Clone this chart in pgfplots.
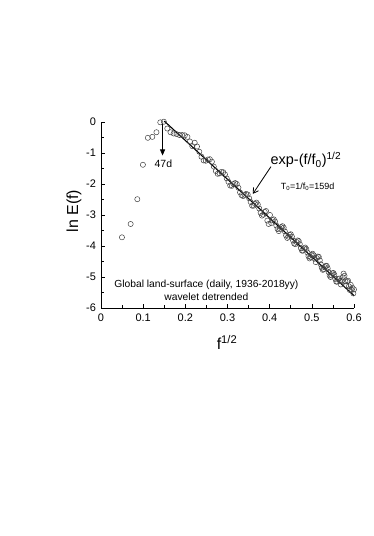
\documentclass[border=0pt]{standalone}
\usepackage{fontspec}
\setmainfont{Liberation Sans}
\usepackage{pgfplots}
\pgfplotsset{compat=1.18}
\usetikzlibrary{arrows.meta}

\pgfplotstableread{
x y
0.0497 -3.72
0.0703 -3.29
0.0861 -2.49
0.0994 -1.38
0.1111 -0.51
0.1217 -0.48
0.1315 -0.33
0.1406 -0.01
0.1491 0.01
0.1572 -0.21
0.1648 -0.33
0.1722 -0.37
0.1792 -0.39
0.1860 -0.42
0.1925 -0.42
0.1988 -0.43
0.2049 -0.48
0.2109 -0.63
0.2166 -0.78
0.2223 -0.67
0.2277 -0.79
0.2331 -0.96
0.2383 -1.12
0.2435 -1.24
0.2485 -1.25
0.2534 -1.21
0.2582 -1.20
0.2630 -1.28
0.2676 -1.44
0.2722 -1.58
0.2767 -1.67
0.2811 -1.66
0.2855 -1.61
0.2898 -1.62
0.2940 -1.69
0.2982 -1.82
0.3023 -1.93
0.3064 -2.05
0.3104 -2.06
0.3143 -2.00
0.3182 -1.97
0.3221 -2.00
0.3259 -2.12
0.3297 -2.27
0.3334 -2.36
0.3371 -2.39
0.3407 -2.35
0.3443 -2.32
0.3479 -2.34
0.3514 -2.46
0.3549 -2.58
0.3584 -2.70
0.3618 -2.70
0.3652 -2.64
0.3686 -2.60
0.3719 -2.66
0.3752 -2.79
0.3785 -2.93
0.3817 -3.02
0.3850 -2.99
0.3882 -2.90
0.3913 -2.87
0.3945 -3.18
0.3976 -3.29
0.4007 -3.00
0.4038 -3.26
0.4068 -3.16
0.4098 -3.14
0.4128 -3.21
0.4158 -3.34
0.4188 -3.45
0.4217 -3.52
0.4246 -3.45
0.4275 -3.39
0.4304 -3.36
0.4333 -3.41
0.4361 -3.53
0.4389 -3.66
0.4417 -3.74
0.4445 -3.70
0.4473 -3.64
0.4500 -3.62
0.4528 -3.70
0.4555 -3.82
0.4582 -3.92
0.4609 -3.94
0.4636 -3.87
0.4662 -3.82
0.4689 -3.84
0.4715 -3.94
0.4741 -4.07
0.4767 -4.15
0.4793 -4.15
0.4819 -4.08
0.4844 -4.05
0.4870 -4.10
0.4895 -4.21
0.4920 -4.33
0.4945 -4.40
0.4970 -4.36
0.4995 -4.29
0.5019 -4.25
0.5044 -4.30
0.5068 -4.41
0.5093 -4.52
0.5117 -4.39
0.5141 -4.34
0.5165 -4.35
0.5189 -4.46
0.5212 -4.59
0.5236 -4.70
0.5260 -4.77
0.5283 -4.75
0.5306 -4.68
0.5330 -4.64
0.5353 -4.64
0.5376 -4.72
0.5399 -4.84
0.5422 -4.95
0.5444 -5.00
0.5467 -4.95
0.5489 -4.88
0.5512 -4.87
0.5534 -4.93
0.5557 -5.06
0.5579 -5.15
0.5601 -5.15
0.5623 -5.07
0.5645 -5.05
0.5667 -5.13
0.5688 -5.24
0.5710 -5.13
0.5732 -5.01
0.5753 -4.89
0.5775 -4.96
0.5796 -5.14
0.5817 -5.27
0.5838 -5.14
0.5859 -5.12
0.5880 -5.30
0.5901 -5.42
0.5922 -5.25
0.5943 -5.42
0.5964 -5.35
0.5985 -5.53
0.6000 -5.40
}\spectrum

\begin{document}
\begin{tikzpicture}
\path[use as bounding box] (0,0) rectangle (374bp,536bp);
\begin{axis}[
  at={(101bp,228bp)}, anchor=south west,
  scale only axis, width=253bp, height=186bp,
  xmin=0, xmax=0.6, ymin=-6, ymax=0,
  axis x line*=bottom, axis y line*=left,
  tick align=inside,
  xtick={0,0.1,0.2,0.3,0.4,0.5,0.6},
  ytick={-6,-5,-4,-3,-2,-1,0},
  minor x tick num=1, minor y tick num=1,
  major tick length=4bp, minor tick length=2.5bp,
  every tick/.style={black, line width=0.6pt},
  axis line style={line width=0.6pt},
  clip=false,
  tick label style={font=\fontsize{11}{13}\selectfont},
  yticklabel style={xshift=-1.5bp},
  xticklabel style={yshift=-2bp},
  /pgf/number format/assume math mode=true,
]
\addplot[only marks, mark=o, mark size=2.6bp, black!75, mark options={line width=0.5pt}] table[x=x, y=y] {\spectrum};
\addplot[black, line width=1.1pt] coordinates {(0.15,0.03) (0.6,-5.6)};

\draw[-{Triangle[length=6bp,width=5bp]}, line width=0.7pt] (axis cs:0.146,-0.06) -- (axis cs:0.146,-1.08);
\node[font=\fontsize{10.5}{12}\selectfont] at (axis cs:0.148,-1.34) {47d};
\node[font=\fontsize{14.5}{17}\selectfont] at (axis cs:0.486,-1.23) {exp-(f/f\textsubscript{0})\textsuperscript{1/2}};
\node[font=\fontsize{9}{11}\selectfont] at (axis cs:0.49,-2.10) {T\textsubscript{0}=1/f\textsubscript{0}=159d};
\draw[-{Straight Barb[length=5bp,width=6bp]}, line width=0.8pt] (axis cs:0.403,-1.44) -- (axis cs:0.360,-2.32);
\node[font=\fontsize{10.3}{13}\selectfont, align=center] at (axis cs:0.25,-5.44) {Global land-surface (daily, 1936-2018yy)\\wavelet detrended};
\end{axis}
\node[rotate=90, font=\fontsize{16}{19}\selectfont] at (74bp,325bp) {ln E(f)};
\node[anchor=base, font=\fontsize{16}{19}\selectfont] at (227bp,186bp) {f\textsuperscript{1/2}};
\end{tikzpicture}
\end{document}
